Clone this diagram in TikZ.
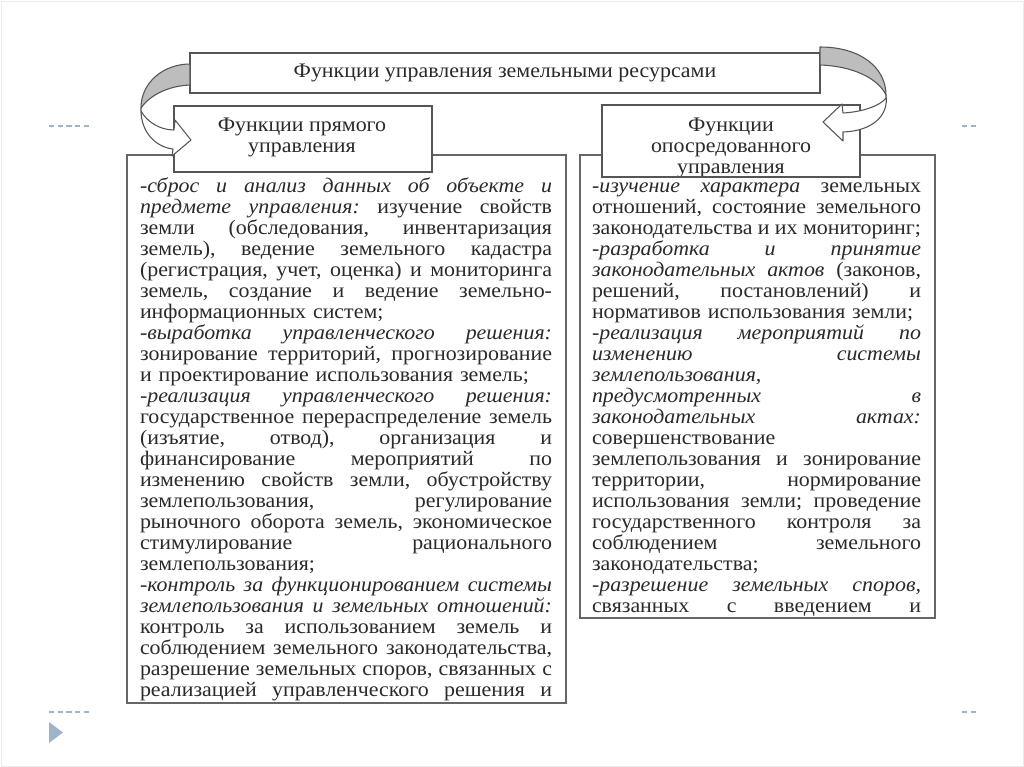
\documentclass[tikz,border=0pt]{standalone}
\usepackage{fontspec}
\setmainfont[FakeStretch=1.06]{Liberation Serif}
\definecolor{txt}{HTML}{2A2A2A}
\definecolor{boxline}{HTML}{555555}
\definecolor{bigline}{HTML}{666666}
\definecolor{arrgray}{HTML}{BDBDBD}
\definecolor{deco}{HTML}{9FB4C8}
\newcommand\jla[1]{\makebox[309pt][s]{\spaceskip=0pt\xspaceskip=0pt\relax#1}}
\newcommand\jlb[1]{\makebox[246.75pt][s]{\spaceskip=0pt\xspaceskip=0pt\relax#1}}
\begin{document}
\begin{tikzpicture}[x=0.75pt,y=-0.75pt,
  every node/.style={inner sep=0pt, outer sep=0pt},
  hdr/.style={draw=boxline, line width=0.9pt, fill=white, anchor=north west},
  bigbox/.style={draw=bigline, line width=1.6pt, fill=white, anchor=north west},
  htext/.style={text=txt, font=\fontsize{15.5}{15.75}\selectfont, align=center},
  body/.style={anchor=north west, text=txt, font=\fontsize{15.5}{15.75}\selectfont\frenchspacing, align=left},
  arr/.style={draw=boxline, line width=0.8pt, line join=round},
  decoline/.style={draw=deco, line width=0.8pt, dash pattern=on 4pt off 2.5pt}]
\fill[white] (0,0) rectangle (1024,767);
\useasboundingbox (0,0) rectangle (1024,767);
\draw[black!8] (1,1) rectangle (1023,766);
% slide decorations
\draw[decoline] (49,126) -- (90,126);
\draw[decoline] (962,126) -- (976,126);
\draw[decoline] (49,712) -- (90,712);
\draw[decoline] (962,712) -- (976,712);
\fill[deco] (49,722) -- (63,732.5) -- (49,743) -- cycle;
% big boxes
\node[bigbox, minimum width=329.25pt, minimum height=411pt] (lbox) at (127,155) {};
\node[bigbox, minimum width=266.25pt, minimum height=347.25pt] (rbox) at (580,155) {};
% sub boxes
\node[hdr, minimum width=193.5pt, minimum height=49.5pt] (lsub) at (174,106) {};
\node[hdr, minimum width=193.5pt, minimum height=54pt] (rsub) at (602,105) {};
\node[htext] (lsubt) at (302,137) {Функции прямого\\управления};
\node[htext, anchor=north] (rsubt) at (731,117.5) {Функции\\опосредованного\\управления};
\draw[boxline, line width=0.9pt] (rsub.south west) -- (rsub.south east);
% top box
\node[hdr, minimum width=472.5pt, minimum height=30pt] (top) at (190,53) {};
\node[htext] (topt) at (top.center) {Функции управления земельными ресурсами};
% body texts
\node[body, text width=309pt] (ltext) at (140,178) {%
\jla{\strut{\itshape -сброс и анализ данных об объекте и}}\\
\jla{{\itshape предмете управления:} изучение свойств}\\
\jla{земли (обследования, инвентаризация}\\
\jla{земель), ведение земельного кадастра}\\
\jla{(регистрация, учет, оценка) и мониторинга}\\
\jla{земель, создание и ведение земельно-}\\
информационных систем;\\
\jla{{\itshape -выработка управленческого решения:}}\\
\jla{зонирование территорий, прогнозирование}\\
и проектирование использования земель;\\
\jla{{\itshape -реализация управленческого решения:}}\\
\jla{государственное перераспределение земель}\\
\jla{(изъятие, отвод), организация и}\\
\jla{финансирование мероприятий по}\\
\jla{изменению свойств земли, обустройству}\\
\jla{землепользования, регулирование}\\
\jla{рыночного оборота земель, экономическое}\\
\jla{стимулирование рационального}\\
землепользования;\\
\jla{{\itshape -контроль за функционированием системы}}\\
\jla{{\itshape землепользования и земельных отношений:}}\\
\jla{контроль за использованием земель и}\\
\jla{соблюдением земельного законодательства,}\\
\jla{разрешение земельных споров, связанных с}\\
\jla{реализацией управленческого решения и}};
\node[body, text width=246.75pt] (rtext) at (592,178) {%
\jlb{\strut{\itshape -изучение характера} земельных}\\
\jlb{отношений, состояние земельного}\\
\jlb{законодательства и их мониторинг;}\\
\jlb{{\itshape -разработка и принятие}}\\
\jlb{{\itshape законодательных актов} (законов,}\\
\jlb{решений, постановлений) и}\\
нормативов использования земли;\\
\jlb{{\itshape -реализация мероприятий по}}\\
\jlb{{\itshape изменению системы}}\\
{\itshape землепользования,}\\
\jlb{{\itshape предусмотренных в}}\\
\jlb{{\itshape законодательных актах:}}\\
совершенствование\\
\jlb{землепользования и зонирование}\\
\jlb{территории, нормирование}\\
\jlb{использования земли; проведение}\\
\jlb{государственного контроля за}\\
\jlb{соблюдением земельного}\\
законодательства;\\
\jlb{{\itshape -разрешение земельных споров,}}\\
\jlb{связанных с введением и}};
% left curved arrow
\filldraw[arr, fill=arrgray] (190,64) .. controls (164,64) and (141,82) .. (141,108)
   .. controls (150,95) and (168,86) .. (190,85) -- cycle;
\filldraw[arr, fill=white] (141,108) .. controls (140,131) and (155,147) .. (173,149)
   -- (172,156) -- (191,140) -- (175,120) -- (174,130)
   .. controls (160,130) and (147,122) .. (141,111) -- cycle;
% right curved arrow
\filldraw[arr, fill=arrgray] (820,47) .. controls (861,47) and (886,68) .. (886,95)
   .. controls (878,78) and (852,66) .. (820,65) -- cycle;
\filldraw[arr, fill=white] (886,95) .. controls (889,116) and (872,131) .. (843,132)
   -- (843,141) -- (823,122) -- (842,104) -- (843,113)
   .. controls (862,112) and (880,106) .. (886,98) -- cycle;
\end{tikzpicture}
\end{document}
